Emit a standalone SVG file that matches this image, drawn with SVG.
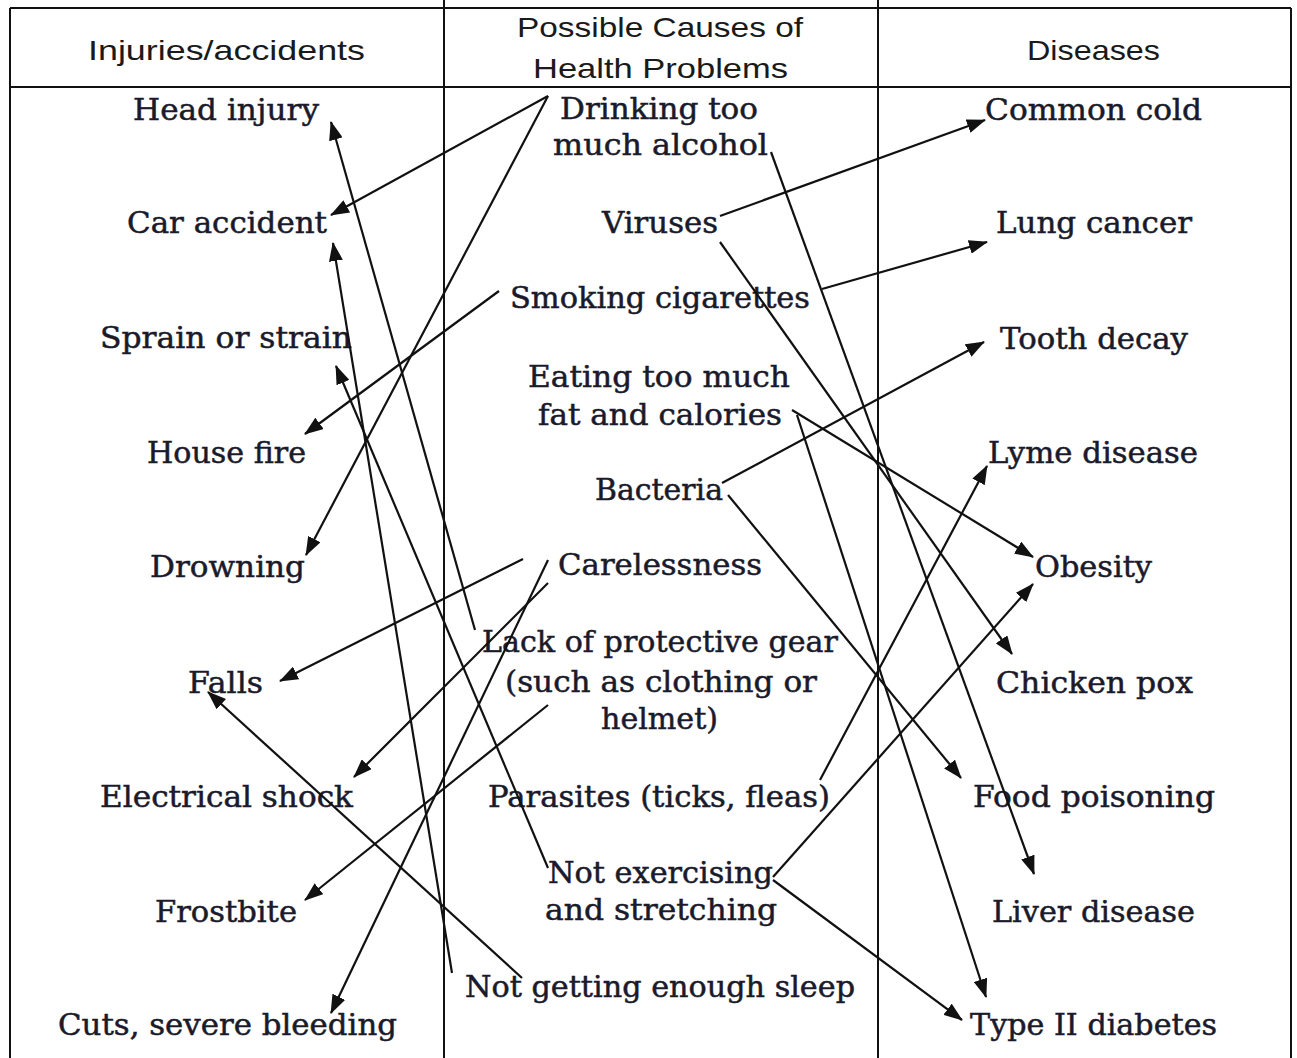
<svg xmlns="http://www.w3.org/2000/svg" width="1297" height="1058" viewBox="0 0 1297 1058">
<defs>
<style>
.grid{stroke:#111;stroke-width:2;fill:none}
.hd{font-family:"Liberation Sans","DejaVu Sans",sans-serif;font-size:28px;fill:#1a1a1a}
.t{font-family:"DejaVu Serif","Liberation Serif",serif;font-size:29px;fill:#1a1a2a;stroke:#1a1a2a;stroke-width:0.5}
.c line{stroke:#111;stroke-width:2.2;marker-end:url(#ah)}
</style>
<marker id="ah" markerUnits="userSpaceOnUse" markerWidth="20" markerHeight="14" refX="18" refY="7" orient="auto">
<path d="M0,0 L19,7 L0,14 Z" fill="#111"/>
</marker>
</defs>
<rect width="1297" height="1058" fill="#fff"/>
<g id="table" class="grid">
<line x1="10" y1="8" x2="1291" y2="8"/>
<line x1="10" y1="87" x2="1291" y2="87"/>
<line x1="10" y1="8" x2="10" y2="1058"/>
<line x1="444" y1="0" x2="444" y2="1058"/>
<line x1="878" y1="0" x2="878" y2="1058"/>
<line x1="1291" y1="8" x2="1291" y2="1058"/>
</g>
<g id="headers">
<text class="hd" x="88" y="60" textLength="277" lengthAdjust="spacingAndGlyphs">Injuries/accidents</text>
<text class="hd" x="517" y="37" textLength="286" lengthAdjust="spacingAndGlyphs">Possible Causes of</text>
<text class="hd" x="533" y="78" textLength="255" lengthAdjust="spacingAndGlyphs">Health Problems</text>
<text class="hd" x="1027" y="60" textLength="133" lengthAdjust="spacingAndGlyphs">Diseases</text>
</g>
<g id="injuries">
<g id="n-head"><text class="t" x="133" y="120" textLength="186" lengthAdjust="spacingAndGlyphs">Head injury</text></g>
<g id="n-car"><text class="t" x="127" y="233" textLength="200" lengthAdjust="spacingAndGlyphs">Car accident</text></g>
<g id="n-sprain"><text class="t" x="100" y="348" textLength="252" lengthAdjust="spacingAndGlyphs">Sprain or strain</text></g>
<g id="n-fire"><text class="t" x="147" y="463" textLength="159" lengthAdjust="spacingAndGlyphs">House fire</text></g>
<g id="n-drown"><text class="t" x="150" y="577" textLength="155" lengthAdjust="spacingAndGlyphs">Drowning</text></g>
<g id="n-falls"><text class="t" x="188" y="693" textLength="75" lengthAdjust="spacingAndGlyphs">Falls</text></g>
<g id="n-shock"><text class="t" x="100" y="807" textLength="253" lengthAdjust="spacingAndGlyphs">Electrical shock</text></g>
<g id="n-frost"><text class="t" x="155" y="922" textLength="142" lengthAdjust="spacingAndGlyphs">Frostbite</text></g>
<g id="n-cuts"><text class="t" x="58" y="1035" textLength="339" lengthAdjust="spacingAndGlyphs">Cuts, severe bleeding</text></g>
</g>
<g id="causes">
<g id="n-drink"><text class="t" x="560" y="119" textLength="198" lengthAdjust="spacingAndGlyphs">Drinking too</text><text class="t" x="553" y="155" textLength="215" lengthAdjust="spacingAndGlyphs">much alcohol</text></g>
<g id="n-virus"><text class="t" x="602" y="233" textLength="116" lengthAdjust="spacingAndGlyphs">Viruses</text></g>
<g id="n-smoke"><text class="t" x="510" y="308" textLength="300" lengthAdjust="spacingAndGlyphs">Smoking cigarettes</text></g>
<g id="n-eat"><text class="t" x="528" y="387" textLength="262" lengthAdjust="spacingAndGlyphs">Eating too much</text><text class="t" x="538" y="425" textLength="244" lengthAdjust="spacingAndGlyphs">fat and calories</text></g>
<g id="n-bact"><text class="t" x="595" y="500" textLength="128" lengthAdjust="spacingAndGlyphs">Bacteria</text></g>
<g id="n-care"><text class="t" x="558" y="575" textLength="204" lengthAdjust="spacingAndGlyphs">Carelessness</text></g>
<g id="n-gear"><text class="t" x="482" y="652" textLength="356" lengthAdjust="spacingAndGlyphs">Lack of protective gear</text><text class="t" x="505" y="692" textLength="312" lengthAdjust="spacingAndGlyphs">(such as clothing or</text><text class="t" x="601" y="729" textLength="117" lengthAdjust="spacingAndGlyphs">helmet)</text></g>
<g id="n-para"><text class="t" x="488" y="807" textLength="342" lengthAdjust="spacingAndGlyphs">Parasites (ticks, fleas)</text></g>
<g id="n-exer"><text class="t" x="548" y="883" textLength="225" lengthAdjust="spacingAndGlyphs">Not exercising</text><text class="t" x="545" y="920" textLength="232" lengthAdjust="spacingAndGlyphs">and stretching</text></g>
<g id="n-sleep"><text class="t" x="465" y="997" textLength="390" lengthAdjust="spacingAndGlyphs">Not getting enough sleep</text></g>
</g>
<g id="diseases">
<g id="n-cold"><text class="t" x="985" y="120" textLength="217" lengthAdjust="spacingAndGlyphs">Common cold</text></g>
<g id="n-lung"><text class="t" x="996" y="233" textLength="196" lengthAdjust="spacingAndGlyphs">Lung cancer</text></g>
<g id="n-tooth"><text class="t" x="1000" y="349" textLength="188" lengthAdjust="spacingAndGlyphs">Tooth decay</text></g>
<g id="n-lyme"><text class="t" x="988" y="463" textLength="210" lengthAdjust="spacingAndGlyphs">Lyme disease</text></g>
<g id="n-obes"><text class="t" x="1035" y="577" textLength="117" lengthAdjust="spacingAndGlyphs">Obesity</text></g>
<g id="n-pox"><text class="t" x="996" y="693" textLength="197" lengthAdjust="spacingAndGlyphs">Chicken pox</text></g>
<g id="n-food"><text class="t" x="973" y="807" textLength="242" lengthAdjust="spacingAndGlyphs">Food poisoning</text></g>
<g id="n-liver"><text class="t" x="992" y="922" textLength="203" lengthAdjust="spacingAndGlyphs">Liver disease</text></g>
<g id="n-diab"><text class="t" x="970" y="1035" textLength="247" lengthAdjust="spacingAndGlyphs">Type II diabetes</text></g>
</g>
<g id="connectors" class="c">
<line x1="548" y1="96" x2="331" y2="215"/>
<line x1="548" y1="96" x2="306" y2="555"/>
<line x1="499" y1="291" x2="305" y2="434"/>
<line x1="523" y1="559" x2="280" y2="681"/>
<line x1="548" y1="560" x2="331" y2="1013"/>
<line x1="548" y1="583" x2="354" y2="777"/>
<line x1="548" y1="705" x2="305" y2="900"/>
<line x1="475" y1="630" x2="331" y2="122"/>
<line x1="452" y1="973" x2="333" y2="243"/>
<line x1="548" y1="868" x2="336" y2="366"/>
<line x1="522" y1="978" x2="208" y2="692"/>
<line x1="720" y1="216" x2="985" y2="120"/>
<line x1="720" y1="242" x2="1012" y2="654"/>
<line x1="822" y1="289" x2="987" y2="242"/>
<line x1="771" y1="152" x2="1034" y2="874"/>
<line x1="722" y1="483" x2="984" y2="342"/>
<line x1="728" y1="495" x2="961" y2="778"/>
<line x1="792" y1="410" x2="1033" y2="557"/>
<line x1="797" y1="415" x2="986" y2="997"/>
<line x1="820" y1="780" x2="987" y2="466"/>
<line x1="773" y1="877" x2="1033" y2="584"/>
<line x1="773" y1="880" x2="962" y2="1020"/>
</g>
</svg>
